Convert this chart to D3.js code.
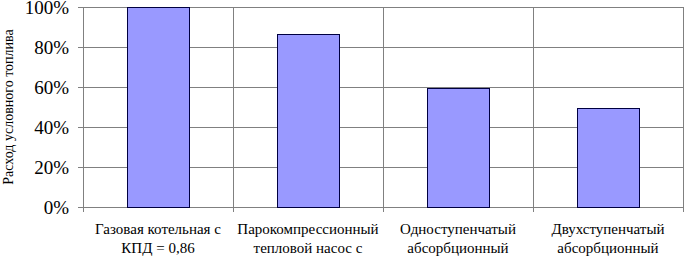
<!DOCTYPE html>
<html><head><meta charset="utf-8">
<script src="https://cdn.jsdelivr.net/npm/d3@7"></script>
</head><body style="margin:0;background:#fff">
<div style="position:absolute;left:0;top:0;visibility:hidden;font-family:'Liberation Serif';font-size:15px">Ааб</div>
<svg id="c" width="684" height="257" font-family="Liberation Serif" style="display:block"></svg>
<script>
const categories = [
  ["Газовая котельная с", "КПД = 0,86"],
  ["Парокомпрессионный", "тепловой насос с"],
  ["Одноступенчатый", "абсорбционный"],
  ["Двухступенчатый", "абсорбционный"]
];
const values = [100, 86.5, 59.5, 49.5];
const yTicks = [0, 20, 40, 60, 80, 100];
const yTitle = "Расход условного топлива";

const FONT = "Liberation Serif";
const svg = d3.select("#c");
const L = 83, R = 683, T = 7, B = 207;
const x = d3.scaleBand().domain(d3.range(categories.length)).range([L, R]).paddingInner(0).paddingOuter(0);
const y = d3.scaleLinear().domain([0, 100]).range([B, T]);

// horizontal gridlines
svg.append("g").selectAll("line").data(yTicks).join("line")
  .attr("x1", L).attr("x2", R).attr("y1", d => y(d)).attr("y2", d => y(d))
  .attr("stroke", "#808080").attr("stroke-width", 1).attr("shape-rendering", "crispEdges");
// vertical gridlines at band boundaries
const bounds = d3.range(categories.length + 1).map(i => L + i * x.bandwidth());
svg.append("g").selectAll("line").data(bounds).join("line")
  .attr("x1", d => d).attr("x2", d => d).attr("y1", T).attr("y2", B + 5)
  .attr("stroke", "#808080").attr("stroke-width", 1).attr("shape-rendering", "crispEdges");

// y axis
const yAxis = d3.axisLeft(y).tickValues(yTicks).tickSize(5).tickPadding(9).tickFormat(d => d + "%");
const ya = svg.append("g").attr("transform", `translate(${L},0)`).call(yAxis);
ya.attr("font-family", FONT).attr("font-size", 19);
ya.select(".domain").remove();
ya.selectAll("line").attr("stroke", "#808080").attr("shape-rendering", "crispEdges");
ya.selectAll("text").attr("font-family", FONT).attr("font-size", 19).attr("fill", "#000");

// bars
const bw = 62;
svg.append("g").selectAll("rect").data(values).join("rect")
  .attr("x", (d, i) => x(i) + x.bandwidth() / 2 - bw / 2 + 0.5)
  .attr("y", d => y(d) + 0.5)
  .attr("width", bw).attr("height", d => y(0) - y(d))
  .attr("fill", "#9999FF").attr("stroke", "#000040").attr("stroke-width", 1);

// category labels
const cg = svg.append("g");
categories.forEach((lines, i) => {
  const t = cg.append("text").attr("x", x(i) + x.bandwidth() / 2).attr("y", 234)
    .attr("text-anchor", "middle").attr("font-family", FONT)
    .attr("font-size", 15).attr("fill", "#000");
  lines.forEach((ln, j) => t.append("tspan").attr("x", x(i) + x.bandwidth() / 2).attr("dy", j ? 19 : 0).text(ln));
});

// y title
svg.append("text").attr("transform", `translate(13,${(T + B) / 2}) rotate(-90)`)
  .attr("text-anchor", "middle").attr("font-family", FONT)
  .attr("font-size", 14).attr("fill", "#000")
  .text(yTitle);
</script>
</body></html>
